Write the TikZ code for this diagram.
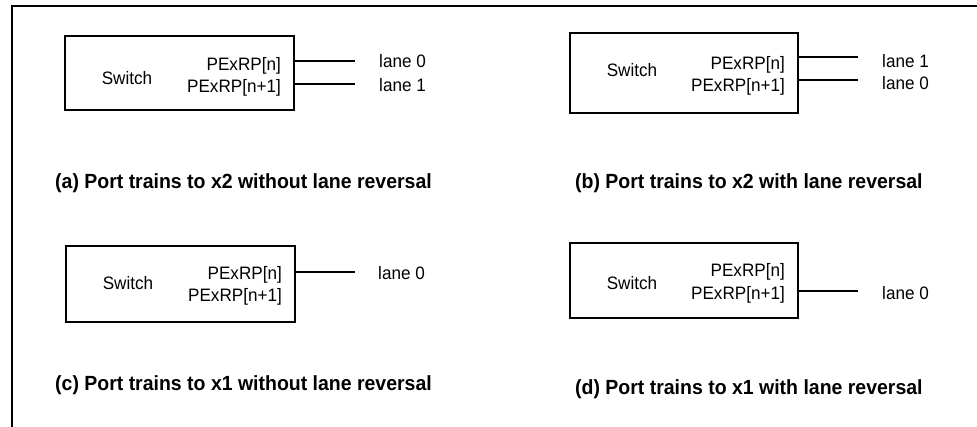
\documentclass[tikz,border=0pt]{standalone}
\usepackage{fontspec}
\setmainfont{Liberation Sans}[FakeStretch=0.95]
\tikzset{
  swbox/.style={draw, line width=2pt, inner sep=0pt},
  lbl/.style={inner sep=0pt, font=\fontsize{18}{20}\selectfont},
  captxt/.style={inner sep=0pt, anchor=base west, font=\fontsize{20.5}{22}\selectfont\bfseries},
  wire/.style={line width=2pt}
}
\begin{document}
\begin{tikzpicture}[x=1pt, y=-1pt]
		\useasboundingbox (0,0) rectangle (977,427);
		\draw[line width=2pt] (12,427) -- (12,6) -- (977,6);
		% (a)
		\node[swbox, minimum width=229pt, minimum height=74pt] (swA) at (179.5,73){};
		\node[lbl, anchor=base] (swAt) at (127,85){Switch};
		\node[lbl, anchor=base east] (pA0) at (281,71){PExRP[n]};
		\node[lbl, anchor=base east] (pA1) at (281,93){PExRP[n+1]};
		\coordinate (eA0) at (355,61);
		\coordinate (eA1) at (355,84);
		\draw[wire] (swA.east |- eA0) -- (eA0);
		\draw[wire] (swA.east |- eA1) -- (eA1);
		\node[lbl, anchor=base west] (lA0) at (379,68){lane 0};
		\node[lbl, anchor=base west] (lA1) at (379,92){lane 1};
		\node[captxt] (capA) at (55,189){(a) Port trains to x2 without lane reversal};
		% (b)
		\node[swbox, minimum width=228pt, minimum height=80pt] (swB) at (684,73){};
		\node[lbl, anchor=base] (swBt) at (632,77){Switch};
		\node[lbl, anchor=base east] (pB0) at (785,70){PExRP[n]};
		\node[lbl, anchor=base east] (pB1) at (785,92){PExRP[n+1]};
		\coordinate (eB0) at (858,57);
		\coordinate (eB1) at (858,80);
		\draw[wire] (swB.east |- eB0) -- (eB0);
		\draw[wire] (swB.east |- eB1) -- (eB1);
		\node[lbl, anchor=base west] (lB0) at (882,68){lane 1};
		\node[lbl, anchor=base west] (lB1) at (882,90){lane 0};
		\node[captxt] (capB) at (575,189){(b) Port trains to x2 with lane reversal};
		% (c)
		\node[swbox, minimum width=229pt, minimum height=76pt] (swC) at (180.5,284){};
		\node[lbl, anchor=base] (swCt) at (128,290){Switch};
		\node[lbl, anchor=base east] (pC0) at (282,280){PExRP[n]};
		\node[lbl, anchor=base east] (pC1) at (282,302){PExRP[n+1]};
		\coordinate (eC0) at (355,272);
		\draw[wire] (swC.east |- eC0) -- (eC0);
		\node[lbl, anchor=base west] (lC0) at (378,280){lane 0};
		\node[captxt] (capC) at (55,390){(c) Port trains to x1 without lane reversal};
		% (d)
		\node[swbox, minimum width=228pt, minimum height=75pt] (swD) at (684,280.5){};
		\node[lbl, anchor=base] (swDt) at (632,290){Switch};
		\node[lbl, anchor=base east] (pD0) at (785,277){PExRP[n]};
		\node[lbl, anchor=base east] (pD1) at (785,300){PExRP[n+1]};
		\coordinate (eD0) at (858,291);
		\draw[wire] (swD.east |- eD0) -- (eD0);
		\node[lbl, anchor=base west] (lD0) at (882,300){lane 0};
		\node[captxt] (capD) at (575,395){(d) Port trains to x1 with lane reversal};
		\end{tikzpicture}
\end{document}
